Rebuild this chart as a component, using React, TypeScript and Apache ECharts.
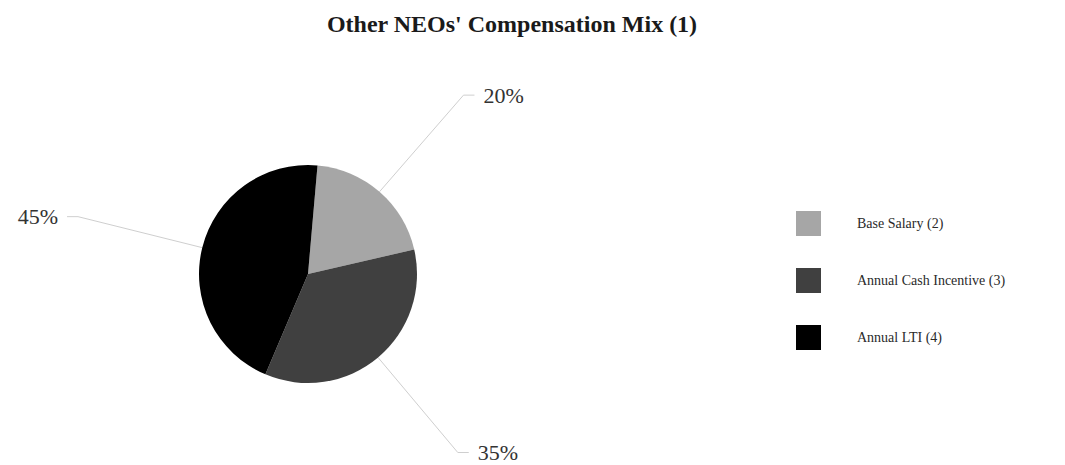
import React, { useEffect, useRef } from "react";
import * as echarts from "echarts";

const chartTitle = "Other NEOs' Compensation Mix (1)";
const categories = ["Base Salary (2)", "Annual Cash Incentive (3)", "Annual LTI (4)"];
const values = [20, 35, 45];
const colors = ["#a6a6a6", "#404040", "#000000"];

export default function App() {
  const ref = useRef<HTMLDivElement>(null);
  useEffect(() => {
    if (!ref.current) return;
    const chart = echarts.init(ref.current, null, { renderer: "svg" });
    const font = "Liberation Serif";
    chart.setOption({
      animation: false,
      backgroundColor: "#ffffff",
      graphic: [
        {
          type: "text",
          x: 512,
          y: 24,
          style: {
            text: chartTitle,
            fontFamily: font,
            fontSize: 24,
            fontWeight: "bold",
            fill: "#1a1a1a",
            textAlign: "center",
            textVerticalAlign: "middle",
          },
        },
      ],
      legend: {
        orient: "vertical",
        left: 791,
        top: 206,
        itemWidth: 25,
        itemHeight: 25,
        itemGap: 32,
        icon: "rect",
        data: categories,
        textStyle: {
          fontFamily: font,
          fontSize: 14,
          color: "#2a2a2a",
          padding: [0, 0, 0, 31],
        },
      },
      series: [
        {
          type: "pie",
          center: [308, 274],
          radius: 109,
          startAngle: 85,
          clockwise: true,
          avoidLabelOverlap: false,
          data: categories.map((name, i) => ({
            name,
            value: values[i],
            itemStyle: { color: colors[i] },
            labelLine: i === 1 ? { length: 124 } : undefined,
          })),
          label: {
            show: true,
            formatter: "{c}%",
            fontFamily: font,
            fontSize: 22,
            color: "#333333",
            distanceToLabelLine: 9,
          },
          labelLine: {
            show: true,
            length: 128,
            length2: 11,
            lineStyle: { color: "#cfcfcf", width: 1 },
          },
          emphasis: { disabled: true },
        },
      ],
    });
    return () => chart.dispose();
  }, []);
  return (
    <div
      ref={ref}
      style={{ position: "absolute", left: 0, top: 0, width: 1065, height: 465 }}
    />
  );
}
